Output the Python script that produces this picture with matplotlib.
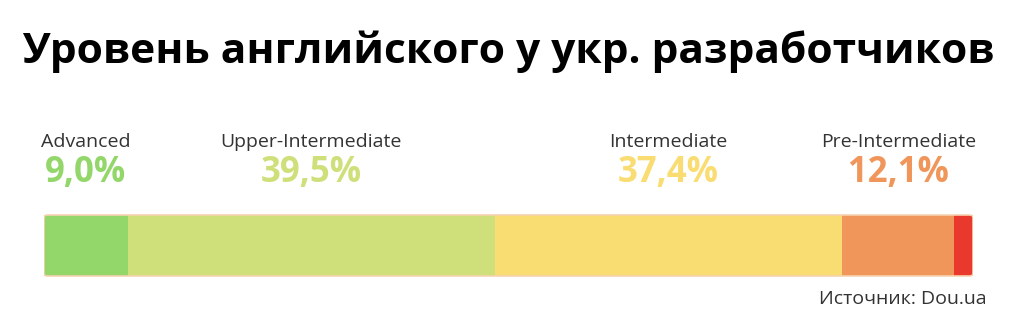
import matplotlib
matplotlib.use("Agg")
import matplotlib.pyplot as plt
from matplotlib.patches import FancyBboxPatch
import numpy as np

levels = ["Advanced", "Upper-Intermediate", "Intermediate", "Pre-Intermediate", "Elementary"]
shares = [9.0, 39.5, 37.4, 12.1, 2.0]
pct_labels = ["9,0%", "39,5%", "37,4%", "12,1%", ""]
colors = ["#93d66a", "#cfdf7a", "#f9dc72", "#f0965a", "#e9392d"]

title = "Уровень английского у укр. разработчиков"
source = "Источник: Dou.ua"

W, H = 1024, 331
fig = plt.figure(figsize=(W / 100, H / 100), dpi=100)
fig.patch.set_facecolor("white")

# axes covers bar span horizontally, full height vertically (y in pixels from top)
x0, x1 = 44, 973
ax = fig.add_axes([x0 / W, 0, (x1 - x0) / W, 1])
ax.set_xlim(0, sum(shares))
ax.set_ylim(H, 0)
ax.axis("off")

lefts = np.concatenate([[0], np.cumsum(shares)[:-1]])
ax.barh(245.5, shares, left=lefts, height=61, color=colors, edgecolor="none", zorder=2)

# thin outline with rounded corners
frame = FancyBboxPatch((0, 215), sum(shares), 61, boxstyle="round,pad=0,rounding_size=0.4",
                       mutation_aspect=6, fill=False, edgecolor="#f6d2b0", lw=1.2, zorder=3)
ax.add_patch(frame)

for lvl, left, w, pl, c in zip(levels, lefts, shares, pct_labels, colors):
    if not pl:
        continue
    cx = left + w / 2
    ax.text(cx, 142, lvl, ha="center", va="center", fontsize=14, color="#333333",
            family="Open Sans")
    ax.text(cx, 173, pl, ha="center", va="center", fontsize=25, color=c,
            family="Open Sans", fontweight="bold")

ax.text(sum(shares) + 1.5, 299, source, ha="right", va="center", fontsize=14,
        color="#333333", family="Open Sans")

t = fig.text(508.5 / W, 1 - 63 / H, title, ha="center", va="baseline", fontsize=32,
             fontweight="bold", family="Open Sans", color="black")
fig.canvas.draw()
bb = t.get_window_extent()
t.set_fontsize(32 * min(1.0, 973 / bb.width))

fig.savefig("out.png", dpi=100, facecolor="white")
